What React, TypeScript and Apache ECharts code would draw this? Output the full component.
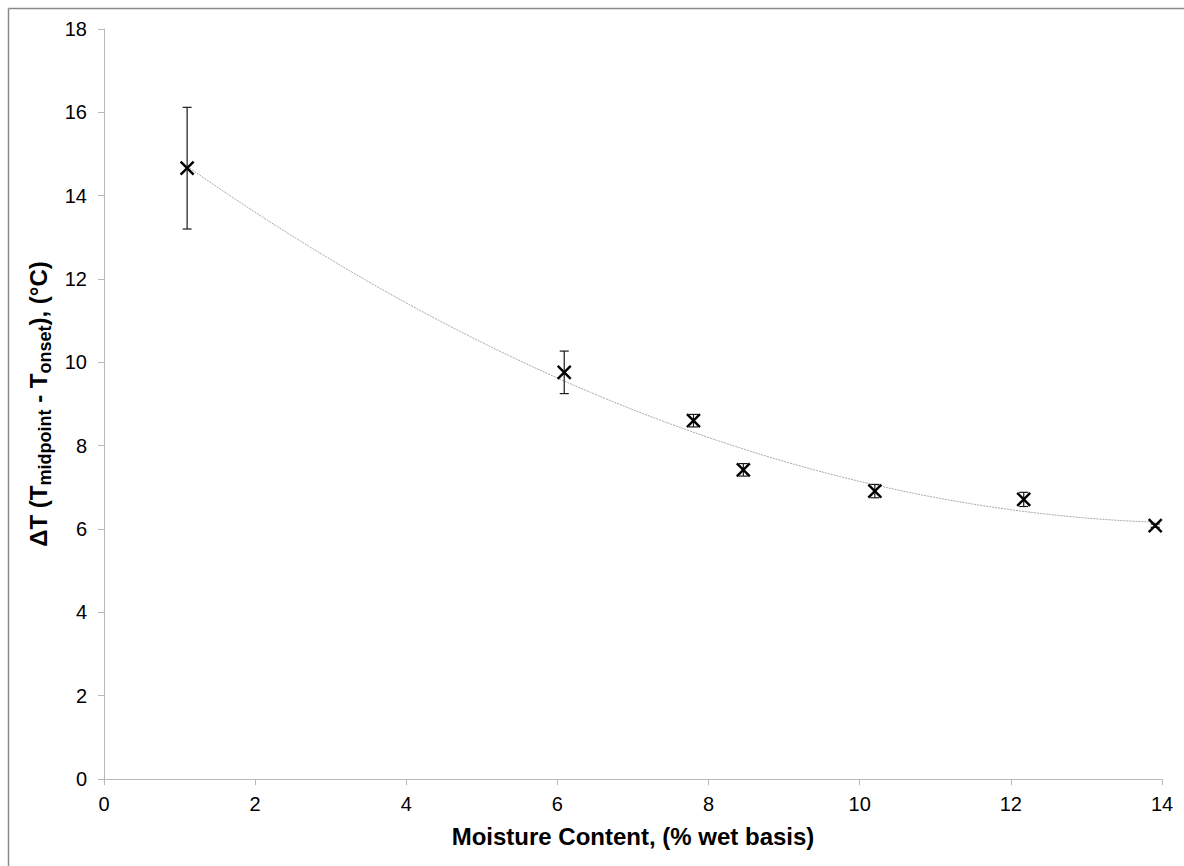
import React, { useEffect, useRef } from "react";
import * as echarts from "echarts";

// Moisture content (% wet basis) of each sample
const moisture = [1.1, 6.09, 7.8, 8.46, 10.2, 12.17, 13.91];
// Mean ΔT (°C) per sample
const deltaT = [14.66, 9.76, 8.6, 7.42, 6.91, 6.71, 6.08];
// Standard deviation of ΔT (°C), drawn as error bars
const deltaTErr = [1.46, 0.51, 0.15, 0.15, 0.16, 0.17, 0.04];

const xTicks = [0, 2, 4, 6, 8, 10, 12, 14];
const yTicks = [0, 2, 4, 6, 8, 10, 12, 14, 16, 18];

// Least-squares second-order polynomial through the measured points
function quadFit(xs: number[], ys: number[]): [number, number, number] {
  const n = xs.length;
  let s1 = 0, s2 = 0, s3 = 0, s4 = 0, t0 = 0, t1 = 0, t2 = 0;
  for (let i = 0; i < n; i++) {
    const x = xs[i], y = ys[i];
    s1 += x; s2 += x * x; s3 += x * x * x; s4 += x * x * x * x;
    t0 += y; t1 += x * y; t2 += x * x * y;
  }
  const m = [
    [n, s1, s2, t0],
    [s1, s2, s3, t1],
    [s2, s3, s4, t2],
  ];
  for (let c = 0; c < 3; c++) {
    let p = c;
    for (let r = c + 1; r < 3; r++) if (Math.abs(m[r][c]) > Math.abs(m[p][c])) p = r;
    [m[c], m[p]] = [m[p], m[c]];
    for (let r = 0; r < 3; r++) {
      if (r === c) continue;
      const f = m[r][c] / m[c][c];
      for (let k = c; k < 4; k++) m[r][k] -= f * m[c][k];
    }
  }
  return [m[0][3] / m[0][0], m[1][3] / m[1][1], m[2][3] / m[2][2]];
}

export default function App() {
  const ref = useRef<HTMLDivElement>(null);

  useEffect(() => {
    document.body.style.margin = "0";
    document.body.style.overflow = "hidden";
    if (!ref.current) return;
    const chart = echarts.init(ref.current, null, { renderer: "svg" });

    const [c0, c1, c2] = quadFit(moisture, deltaT);
    const xStart = moisture[0];
    const xEnd = moisture[moisture.length - 1];
    const trend: number[][] = [];
    const steps = 120;
    for (let i = 0; i <= steps; i++) {
      const x = xStart + ((xEnd - xStart) * i) / steps;
      trend.push([x, c0 + c1 * x + c2 * x * x]);
    }

    const points = moisture.map((x, i) => [x, deltaT[i], deltaTErr[i]]);
    const font = "'Liberation Sans', Arial, sans-serif";
    const axisGray = "#b8b8b8";

    chart.setOption({
      animation: false,
      backgroundColor: "#ffffff",
      grid: { left: 104, right: 22, top: 29, bottom: 87 },
      xAxis: {
        type: "value",
        min: 0,
        max: 14,
        interval: 2,
        name: "Moisture Content, (% wet basis)",
        nameLocation: "middle",
        nameGap: 45,
        nameTextStyle: { fontFamily: font, fontSize: 24, fontWeight: "bold", color: "#000" },
        axisLine: { show: true, lineStyle: { color: axisGray, width: 1 } },
        axisTick: { show: true, inside: false, length: 6, lineStyle: { color: axisGray } },
        axisLabel: {
          fontFamily: font,
          fontSize: 20,
          color: "#000",
          margin: 15,
          formatter: (v: number) => (xTicks.includes(v) ? String(v) : ""),
        },
        splitLine: { show: false },
      },
      yAxis: {
        type: "value",
        min: 0,
        max: 18,
        interval: 2,
        name: "{b|ΔT (T}{s|midpoint}{b| - T}{s|onset}{b|), (°C)}",
        nameLocation: "middle",
        nameRotate: 90,
        nameGap: 43,
        nameTextStyle: {
          fontFamily: font,
          color: "#000",
          rich: {
            b: { fontFamily: font, fontSize: 24, fontWeight: "bold", color: "#000", lineHeight: 30 },
            s: {
              fontFamily: font,
              fontSize: 18,
              fontWeight: "bold",
              color: "#000",
              lineHeight: 16,
              verticalAlign: "bottom",
            },
          },
        },
        axisLine: { show: true, lineStyle: { color: axisGray, width: 1 } },
        axisTick: { show: true, inside: false, length: 6, lineStyle: { color: axisGray } },
        axisLabel: {
          fontFamily: font,
          fontSize: 20,
          color: "#000",
          margin: 17,
          formatter: (v: number) => (yTicks.includes(v) ? String(v) : ""),
        },
        splitLine: { show: false },
      },
      graphic: [
        {
          type: "line",
          shape: { x1: 8.5, y1: 8.5, x2: 1184, y2: 8.5 },
          style: { stroke: "#8a8a8a", lineWidth: 1.5 },
          silent: true,
        },
        {
          type: "line",
          shape: { x1: 8.5, y1: 8.5, x2: 8.5, y2: 866 },
          style: { stroke: "#8a8a8a", lineWidth: 1.5 },
          silent: true,
        },
      ],
      series: [
        {
          type: "line",
          data: trend,
          showSymbol: false,
          smooth: false,
          lineStyle: { color: "#a8a8a8", width: 1, type: [2, 1] },
          silent: true,
          z: 1,
        },
        {
          type: "custom",
          data: points,
          z: 3,
          renderItem: (_params: any, api: any) => {
            const x = api.value(0);
            const y = api.value(1);
            const e = api.value(2);
            const c = api.coord([x, y]);
            const top = api.coord([x, y + e]);
            const bot = api.coord([x, y - e]);
            const cap = 4.5;
            const r = 6.5;
            const barStyle = { stroke: "#1a1a1a", lineWidth: 1.2 };
            const mkStyle = { stroke: "#000", lineWidth: 2.4 };
            return {
              type: "group",
              children: [
                { type: "line", shape: { x1: top[0], y1: top[1], x2: bot[0], y2: bot[1] }, style: barStyle },
                { type: "line", shape: { x1: top[0] - cap, y1: top[1], x2: top[0] + cap, y2: top[1] }, style: barStyle },
                { type: "line", shape: { x1: bot[0] - cap, y1: bot[1], x2: bot[0] + cap, y2: bot[1] }, style: barStyle },
                { type: "line", shape: { x1: c[0] - r, y1: c[1] - r, x2: c[0] + r, y2: c[1] + r }, style: mkStyle },
                { type: "line", shape: { x1: c[0] - r, y1: c[1] + r, x2: c[0] + r, y2: c[1] - r }, style: mkStyle },
              ],
            };
          },
        },
      ],
    });

    return () => chart.dispose();
  }, []);

  return <div ref={ref} style={{ width: 1184, height: 866 }} />;
}
